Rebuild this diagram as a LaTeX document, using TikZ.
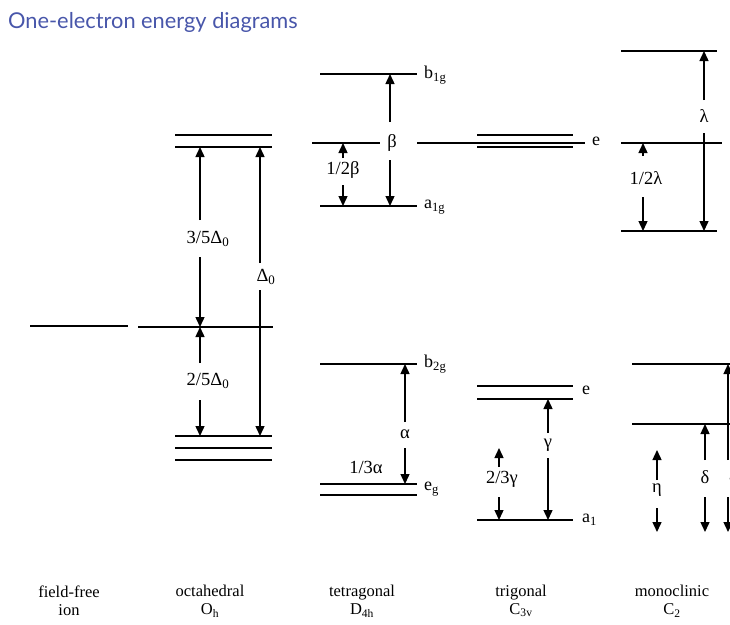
\documentclass[tikz,border=0pt]{standalone}
\usepackage{fontspec}
\setmainfont{Liberation Serif}
\newfontfamily\titlefont{Lato}
\usetikzlibrary{arrows.meta}
\definecolor{titleblue}{RGB}{72,86,170}
\begin{document}
\begin{tikzpicture}[x=1pt,y=-1pt,
  level/.style={line width=2.8pt},
  thinlevel/.style={line width=1.1pt},
  arr/.style={line width=1.4pt,-{Triangle[length=10pt,width=9pt]}},
  lab/.style={font=\fontsize{18.5}{20}\selectfont, inner sep=0pt},
  sym/.style={font=\fontsize{18}{20}\selectfont, anchor=west, inner sep=0pt},
  capt/.style={font=\fontsize{16.5}{18}\selectfont, align=center, inner sep=0pt}]
\useasboundingbox (0,0) rectangle (730,624);

% title
\node[anchor=west, inner sep=0pt, text=titleblue, font=\titlefont\fontsize{21.8}{24}\selectfont] (title) at (8,22) {One-electron energy diagrams};

% ---------- field-free ion
\draw[level] (30,326) -- (128,326);

% ---------- octahedral
\draw[thinlevel] (138,327) -- (273,327);
\draw[level] (175,135) -- (272,135);
\draw[level] (175,147) -- (272,147);
\draw[level] (175,436) -- (272,436);
\draw[level] (175,448) -- (272,448);
\draw[level] (175,460) -- (272,460);

\node[lab] (l35) at (208,239) {3/5Δ\textsubscript{0}};
\coordinate (o1t) at (200,147); \coordinate (o1a) at (200,220);
\coordinate (o1b) at (200,257); \coordinate (o1m) at (200,327);
\draw[arr] (o1a) -- (o1t);
\draw[arr] (o1b) -- (o1m);

\node[lab] (l25) at (208,381) {2/5Δ\textsubscript{0}};
\coordinate (o2a) at (200,363); \coordinate (o2b) at (200,400);
\coordinate (o2d) at (200,436);
\draw[arr] (o2a) -- (o1m);
\draw[arr] (o2b) -- (o2d);

\node[lab] (ld) at (266,277) {Δ\textsubscript{0}};
\coordinate (o3t) at (260,147); \coordinate (o3a) at (260,263);
\coordinate (o3b) at (260,290); \coordinate (o3d) at (260,436);
\draw[arr] (o3a) -- (o3t);
\draw[arr] (o3b) -- (o3d);

% ---------- tetragonal
\draw[level] (320,74) -- (417,74);
\draw[thinlevel] (312,143) -- (380,143);
\draw[thinlevel] (417,143) -- (585,143);
\draw[level] (320,206) -- (417,206);
\node[sym] (b1g) at (424,75) {b\textsubscript{1g}};
\node[sym] (a1g) at (424,207) {a\textsubscript{1g}};

\node[lab] (lb) at (392,143) {β};
\coordinate (t1t) at (390,74); \coordinate (t1a) at (390,122);
\coordinate (t1b) at (390,160); \coordinate (t1d) at (390,206);
\draw[arr] (t1a) -- (t1t);
\draw[arr] (t1b) -- (t1d);

\node[lab] (lhb) at (343,170) {1/2β};
\coordinate (t2t) at (343,143); \coordinate (t2a) at (343,158);
\coordinate (t2b) at (343,185); \coordinate (t2d) at (343,206);
\draw[arr] (t2a) -- (t2t);
\draw[arr] (t2b) -- (t2d);

\draw[level] (320,364) -- (417,364);
\draw[level] (320,484) -- (417,484);
\draw[level] (320,495) -- (417,495);
\node[sym] (b2g) at (424,364) {b\textsubscript{2g}};
\node[sym] (eg) at (424,489) {e\textsubscript{g}};

\node[lab] (la) at (405,434) {α};
\coordinate (t3t) at (405,364); \coordinate (t3a) at (405,422);
\coordinate (t3b) at (405,448); \coordinate (t3d) at (405,484);
\draw[arr] (t3a) -- (t3t);
\draw[arr] (t3b) -- (t3d);
\node[lab] (lta) at (366,467) {1/3α};

% ---------- trigonal
\draw[level] (477,135) -- (573,135);
\draw[level] (477,147) -- (573,147);
\node[sym] (e1) at (592,141) {e};
\draw[level] (477,386) -- (573,386);
\draw[level] (477,399) -- (573,399);
\node[sym] (e2) at (582,390) {e};
\draw[level] (477,520) -- (573,520);
\node[sym] (a1) at (582,520) {a\textsubscript{1}};

\node[lab] (lg) at (548,445) {γ};
\coordinate (r1t) at (548,399); \coordinate (r1a) at (548,433);
\coordinate (r1b) at (548,458); \coordinate (r1d) at (548,520);
\draw[arr] (r1a) -- (r1t);
\draw[arr] (r1b) -- (r1d);

\node[lab] (ltg) at (502,479) {2/3γ};
\coordinate (r2t) at (499,448); \coordinate (r2a) at (499,467);
\coordinate (r2b) at (499,497); \coordinate (r2d) at (499,520);
\draw[arr] (r2a) -- (r2t);
\draw[arr] (r2b) -- (r2d);

% ---------- monoclinic
\draw[level] (621,51) -- (717,51);
\draw[thinlevel] (621,143) -- (722,143);
\draw[level] (621,231) -- (717,231);

\node[lab] (ll) at (704,116) {λ};
\coordinate (m1t) at (704,51); \coordinate (m1a) at (704,100);
\coordinate (m1b) at (704,133); \coordinate (m1d) at (704,231);
\draw[arr] (m1a) -- (m1t);
\draw[arr] (m1b) -- (m1d);

\node[lab] (lhl) at (646,178) {1/2λ};
\coordinate (m2t) at (643,143); \coordinate (m2a) at (643,156);
\coordinate (m2b) at (643,197); \coordinate (m2d) at (643,231);
\draw[arr] (m2a) -- (m2t);
\draw[arr] (m2b) -- (m2d);

\draw[level] (632,364) -- (731,364);
\draw[level] (632,424) -- (731,424);

\node[lab] (leta) at (657,490) {η};
\coordinate (m3t) at (657,450); \coordinate (m3a) at (657,480);
\coordinate (m3b) at (657,508); \coordinate (m3d) at (657,532);
\draw[arr] (m3a) -- (m3t);
\draw[arr] (m3b) -- (m3d);

\node[lab] (ldl) at (705,477) {δ};
\coordinate (m4t) at (705,424); \coordinate (m4a) at (705,460);
\coordinate (m4b) at (705,497); \coordinate (m4d) at (705,532);
\draw[arr] (m4a) -- (m4t);
\draw[arr] (m4b) -- (m4d);

\begin{scope}
\clip (0,0) rectangle (730,624);
\node[lab] (leps) at (733,477) {ε};
\coordinate (m5t) at (728,364); \coordinate (m5a) at (728,460);
\coordinate (m5b) at (728,497); \coordinate (m5d) at (728,532);
\draw[arr] (m5a) -- (m5t);
\draw[arr] (m5b) -- (m5d);
\end{scope}

% ---------- captions
\node[capt] (c1) at (69,601) {field-free\\ion};
\node[capt] (c2) at (210,601) {octahedral\\O\textsubscript{h}};
\node[capt] (c3) at (362,601) {tetragonal\\D\textsubscript{4h}};
\node[capt] (c4) at (521,601) {trigonal\\C\textsubscript{3v}};
\node[capt] (c5) at (672,601) {monoclinic\\C\textsubscript{2}};
\end{tikzpicture}
\end{document}
